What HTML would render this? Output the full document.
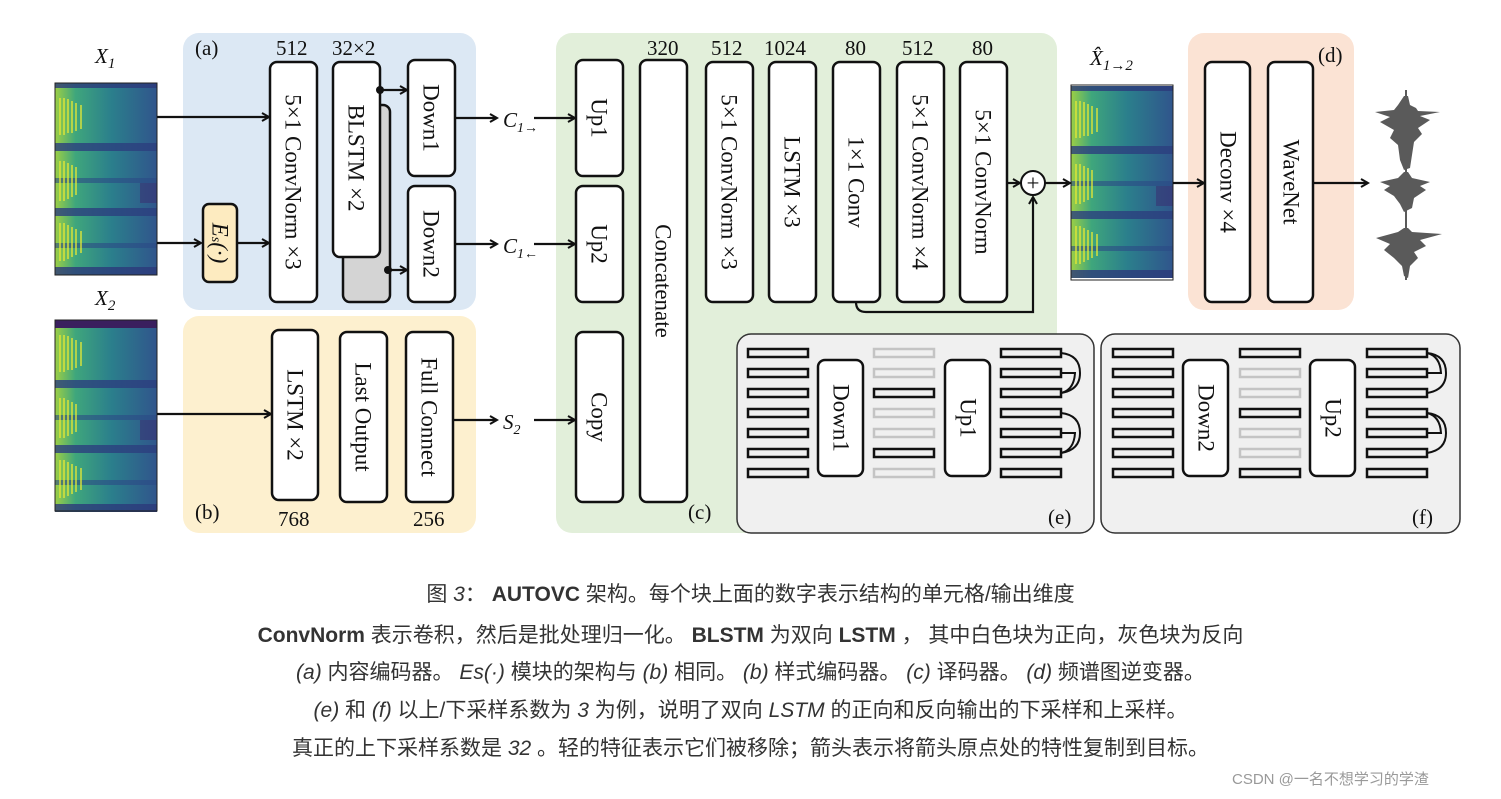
<!DOCTYPE html>
<html><head><meta charset="utf-8"><style>
body{margin:0;background:#fff;width:1501px;height:799px;overflow:hidden;position:relative}
svg{display:block}
.t{font-family:"Liberation Serif",serif;font-size:21px;fill:#111}
.r{font-family:"Liberation Serif",serif;font-size:23px;fill:#111;text-anchor:middle;dominant-baseline:central}
.b{fill:#fff;stroke:#111;stroke-width:2.5}
.cap{position:absolute;left:0;width:1501px;text-align:center;font-family:"Liberation Sans","Noto Sans CJK SC",sans-serif;font-size:21px;color:#333}
.cap b{color:#333}
</style></head><body>
<svg width="1501" height="560" viewBox="0 0 1501 560" xmlns="http://www.w3.org/2000/svg">
<defs>
<marker id="a" markerWidth="10" markerHeight="10" refX="8" refY="5" orient="auto" markerUnits="userSpaceOnUse"><path d="M1,1 L8,5 L1,9" fill="none" stroke="#111" stroke-width="2"/></marker>
<linearGradient id="sp" x1="0" x2="1"><stop offset="0" stop-color="#9ccf45"/><stop offset="0.2" stop-color="#3fa67c"/><stop offset="0.55" stop-color="#2b7f8c"/><stop offset="1" stop-color="#30558c"/></linearGradient>
<g id="spec">
<rect x="0" y="0" width="102" height="192" fill="url(#sp)"/>
<rect x="0" y="0" width="102" height="5" fill="#2c3a7a" opacity="0.8"/>
<rect x="0" y="60" width="102" height="8" fill="#2c3e7e" opacity="0.8"/>
<rect x="0" y="95" width="102" height="5" fill="#2c4a86" opacity="0.6"/>
<rect x="0" y="125" width="102" height="8" fill="#2c3e7e" opacity="0.8"/>
<rect x="0" y="160" width="102" height="5" fill="#2c4a86" opacity="0.6"/>
<rect x="0" y="184" width="102" height="8" fill="#2c3a7a" opacity="0.8"/>
<g stroke="#e6e835" stroke-width="1.6" opacity="0.85">
<path d="M5,15V52M9,15V52M13,16V50M17,18V50M21,20V48M26,22V46"/>
<path d="M5,78V118M9,78V118M13,80V116M17,82V114M21,84V112"/>
<path d="M5,140V178M9,140V178M13,142V176M17,144V174M21,146V172M26,148V170"/>
</g>
<rect x="85" y="100" width="17" height="20" fill="#3a2a6e" opacity="0.5"/>
</g>
</defs>
<!-- panels -->
<rect x="183" y="33" width="293" height="277" rx="16" fill="#dce8f4"/>
<rect x="183" y="316" width="293" height="217" rx="16" fill="#fdf0cf"/>
<rect x="556" y="33" width="501" height="500" rx="16" fill="#e2efda"/>
<rect x="1188" y="33" width="166" height="277" rx="16" fill="#fbe3d4"/>
<!-- spectrograms -->
<text class="t" x="95" y="63" font-style="italic" font-size="23">X<tspan font-size="15" dy="5">1</tspan></text>
<use href="#spec" x="55" y="83"/><rect x="55" y="83" width="102" height="192" fill="none" stroke="#222"/>
<text class="t" x="95" y="305" font-style="italic" font-size="23">X<tspan font-size="15" dy="5">2</tspan></text>
<use href="#spec" x="55" y="320"/><rect x="55" y="320" width="102" height="8" fill="#3a1f5e"/><rect x="55" y="320" width="102" height="191" fill="none" stroke="#222"/>
<text class="t" x="1090" y="65" font-style="italic" font-size="23">X̂<tspan font-size="15" dy="5">1→2</tspan></text>
<use href="#spec" x="1071" y="86"/><rect x="1071" y="85" width="102" height="195" fill="none" stroke="#222"/>
<!-- (a) -->
<text class="t" x="195" y="55">(a)</text>
<text class="t" x="276" y="55">512</text><text class="t" x="332" y="55">32×2</text>
<rect class="b" x="270" y="62" width="47" height="240" rx="7"/><text class="r" transform="translate(293,182) rotate(90)">5×1 ConvNorm ×3</text>
<rect x="343" y="105" width="47" height="197" rx="7" fill="#d4d4d4" stroke="#111" stroke-width="2.5"/>
<rect class="b" x="333" y="62" width="47" height="195" rx="7"/><text class="r" transform="translate(356,158) rotate(90)">BLSTM ×2</text>
<rect class="b" x="408" y="60" width="47" height="116" rx="7"/><text class="r" transform="translate(431,118) rotate(90)">Down1</text>
<rect class="b" x="408" y="186" width="47" height="116" rx="7"/><text class="r" transform="translate(431,244) rotate(90)">Down2</text>
<rect x="203" y="204" width="34" height="78" rx="6" fill="#fdebc0" stroke="#111" stroke-width="2.5"/><text class="r" font-style="italic" transform="translate(220,243) rotate(90)">E<tspan font-size="14" dy="4">s</tspan><tspan dy="-4">(·)</tspan></text>
<g stroke="#111" stroke-width="2.2" fill="none" marker-end="url(#a)">
<line x1="157" y1="117" x2="269" y2="117"/>
<line x1="157" y1="243" x2="201" y2="243"/>
<line x1="237" y1="243" x2="269" y2="243"/>
<line x1="380" y1="90" x2="407" y2="90"/>
<line x1="388" y1="270" x2="407" y2="270"/>
<line x1="455" y1="118" x2="497" y2="118"/>
<line x1="455" y1="244" x2="497" y2="244"/>
<line x1="157" y1="414" x2="271" y2="414"/>
<line x1="453" y1="420" x2="497" y2="420"/>
<line x1="534" y1="118" x2="575" y2="118"/>
<line x1="534" y1="244" x2="575" y2="244"/>
<line x1="534" y1="420" x2="575" y2="420"/>
<line x1="1007" y1="183" x2="1020" y2="183"/>
<line x1="1045" y1="183" x2="1070" y2="183"/>
<path d="M856,302 Q856,312 866,312 L1033,312 L1033,197"/>
<line x1="1173" y1="183" x2="1204" y2="183"/>
<line x1="1313" y1="183" x2="1368" y2="183"/>
</g>
<circle cx="380" cy="90" r="4" fill="#111"/><circle cx="388" cy="270" r="4" fill="#111"/>
<text class="t" x="503" y="127" font-style="italic">C<tspan font-size="14" dy="5">1→</tspan></text>
<text class="t" x="503" y="253" font-style="italic">C<tspan font-size="14" dy="5">1←</tspan></text>
<text class="t" x="503" y="429" font-style="italic">S<tspan font-size="14" dy="5">2</tspan></text>
<!-- (b) -->
<rect class="b" x="272" y="330" width="46" height="170" rx="7"/><text class="r" transform="translate(295,415) rotate(90)">LSTM ×2</text>
<rect class="b" x="340" y="332" width="47" height="170" rx="7"/><text class="r" transform="translate(363,417) rotate(90)">Last Output</text>
<rect class="b" x="406" y="332" width="47" height="170" rx="7"/><text class="r" transform="translate(429,417) rotate(90)">Full Connect</text>
<text class="t" x="278" y="526">768</text><text class="t" x="413" y="526">256</text>
<text class="t" x="195" y="519">(b)</text>
<!-- (c) -->
<rect class="b" x="576" y="60" width="47" height="116" rx="7"/><text class="r" transform="translate(599,118) rotate(90)">Up1</text>
<rect class="b" x="576" y="186" width="47" height="116" rx="7"/><text class="r" transform="translate(599,244) rotate(90)">Up2</text>
<rect class="b" x="576" y="332" width="47" height="170" rx="7"/><text class="r" transform="translate(599,417) rotate(90)">Copy</text>
<rect class="b" x="640" y="60" width="47" height="442" rx="7"/><text class="r" transform="translate(663,281) rotate(90)">Concatenate</text>
<text class="t" x="647" y="55">320</text>
<text class="t" x="711" y="55">512</text><text class="t" x="764" y="55">1024</text><text class="t" x="845" y="55">80</text><text class="t" x="902" y="55">512</text><text class="t" x="972" y="55">80</text>
<rect class="b" x="706" y="62" width="47" height="240" rx="7"/><text class="r" transform="translate(729,182) rotate(90)">5×1 ConvNorm ×3</text>
<rect class="b" x="769" y="62" width="47" height="240" rx="7"/><text class="r" transform="translate(792,182) rotate(90)">LSTM ×3</text>
<rect class="b" x="833" y="62" width="47" height="240" rx="7"/><text class="r" transform="translate(856,182) rotate(90)">1×1 Conv</text>
<rect class="b" x="897" y="62" width="47" height="240" rx="7"/><text class="r" transform="translate(920,182) rotate(90)">5×1 ConvNorm ×4</text>
<rect class="b" x="960" y="62" width="47" height="240" rx="7"/><text class="r" transform="translate(983,182) rotate(90)">5×1 ConvNorm</text>
<text class="t" x="688" y="519">(c)</text>
<circle cx="1033" cy="183" r="12" fill="#fff" stroke="#111" stroke-width="2"/><text class="r" x="1033" y="183" font-size="20">+</text>
<!-- (d) -->
<rect class="b" x="1205" y="62" width="45" height="240" rx="7"/><text class="r" transform="translate(1228,182) rotate(90)">Deconv ×4</text>
<rect class="b" x="1268" y="62" width="45" height="240" rx="7"/><text class="r" transform="translate(1291,182) rotate(90)">WaveNet</text>
<text class="t" x="1318" y="62">(d)</text>
<!-- waveform -->
<g fill="#5a5a5a">
<rect x="1405" y="90" width="2" height="190"/>
<path d="M1404,96 L1408,96 L1410,105 L1416,108 L1418,111 L1440,112 L1420,116 L1430,120 L1418,128 L1422,134 L1414,142 L1412,155 L1410,168 L1404,170 L1400,160 L1398,145 L1390,138 L1394,130 L1380,122 L1390,117 L1375,112 L1394,110 L1398,105 Z"/>
<path d="M1404,172 L1408,172 L1412,178 L1430,182 L1420,186 L1426,190 L1414,198 L1412,208 L1404,212 L1400,204 L1394,196 L1384,190 L1390,186 L1380,182 L1398,178 Z"/>
<path d="M1404,228 L1408,228 L1412,232 L1442,234 L1420,240 L1426,246 L1414,252 L1418,258 L1410,266 L1408,278 L1404,276 L1402,266 L1394,258 L1384,250 L1390,244 L1376,238 L1398,232 Z"/>
</g>
<!-- (e)(f) -->
<rect x="737" y="334" width="357" height="199" rx="14" fill="#f0f0f0" stroke="#333" stroke-width="1.5"/>
<rect x="1101" y="334" width="359" height="199" rx="14" fill="#f0f0f0" stroke="#333" stroke-width="1.5"/>
<g fill="none" stroke-width="2.5">
<g stroke="#111">
<rect x="748" y="349" width="60" height="8"/><rect x="748" y="369" width="60" height="8"/><rect x="748" y="389" width="60" height="8"/><rect x="748" y="409" width="60" height="8"/><rect x="748" y="429" width="60" height="8"/><rect x="748" y="449" width="60" height="8"/><rect x="748" y="469" width="60" height="8"/>
<rect x="1001" y="349" width="60" height="8"/><rect x="1001" y="369" width="60" height="8"/><rect x="1001" y="389" width="60" height="8"/><rect x="1001" y="409" width="60" height="8"/><rect x="1001" y="429" width="60" height="8"/><rect x="1001" y="449" width="60" height="8"/><rect x="1001" y="469" width="60" height="8"/>
<rect x="874" y="389" width="60" height="8"/><rect x="874" y="449" width="60" height="8"/>
<rect x="1113" y="349" width="60" height="8"/><rect x="1113" y="369" width="60" height="8"/><rect x="1113" y="389" width="60" height="8"/><rect x="1113" y="409" width="60" height="8"/><rect x="1113" y="429" width="60" height="8"/><rect x="1113" y="449" width="60" height="8"/><rect x="1113" y="469" width="60" height="8"/>
<rect x="1367" y="349" width="60" height="8"/><rect x="1367" y="369" width="60" height="8"/><rect x="1367" y="389" width="60" height="8"/><rect x="1367" y="409" width="60" height="8"/><rect x="1367" y="429" width="60" height="8"/><rect x="1367" y="449" width="60" height="8"/><rect x="1367" y="469" width="60" height="8"/>
<rect x="1240" y="349" width="60" height="8"/><rect x="1240" y="409" width="60" height="8"/><rect x="1240" y="469" width="60" height="8"/>
</g>
<g stroke="#c4c4c4">
<rect x="874" y="349" width="60" height="8"/><rect x="874" y="369" width="60" height="8"/><rect x="874" y="409" width="60" height="8"/><rect x="874" y="429" width="60" height="8"/><rect x="874" y="469" width="60" height="8"/>
<rect x="1240" y="369" width="60" height="8"/><rect x="1240" y="389" width="60" height="8"/><rect x="1240" y="429" width="60" height="8"/><rect x="1240" y="449" width="60" height="8"/>
</g>
<g stroke="#111" stroke-width="2">
<path d="M1061,393 Q1080,390 1080,373 Q1080,355 1061,353"/><path d="M1061,393 Q1074,390 1075,373 Q1074,373 1061,373"/>
<path d="M1061,453 Q1080,450 1080,433 Q1080,415 1061,413"/><path d="M1061,453 Q1074,450 1075,433 Q1074,433 1061,433"/>
<path d="M1427,353 Q1446,355 1446,373 Q1446,390 1427,393"/><path d="M1427,353 Q1440,356 1441,373 Q1440,373 1427,373"/>
<path d="M1427,413 Q1446,415 1446,433 Q1446,450 1427,453"/><path d="M1427,413 Q1440,416 1441,433 Q1440,433 1427,433"/>
</g>
</g>
<rect class="b" x="818" y="360" width="45" height="116" rx="7"/><text class="r" transform="translate(841,418) rotate(90)">Down1</text>
<rect class="b" x="945" y="360" width="45" height="116" rx="7"/><text class="r" transform="translate(968,418) rotate(90)">Up1</text>
<rect class="b" x="1183" y="360" width="45" height="116" rx="7"/><text class="r" transform="translate(1206,418) rotate(90)">Down2</text>
<rect class="b" x="1310" y="360" width="45" height="116" rx="7"/><text class="r" transform="translate(1333,418) rotate(90)">Up2</text>
<text class="t" x="1048" y="524">(e)</text><text class="t" x="1412" y="524">(f)</text>
</svg>
<div class="cap" style="top:578px">图 <i>3</i>： <b>AUTOVC</b> 架构。每个块上面的数字表示结构的单元格/输出维度</div>
<div class="cap" style="top:619px"><b>ConvNorm</b> 表示卷积，然后是批处理归一化。 <b>BLSTM</b> 为双向 <b>LSTM</b> ， 其中白色块为正向，灰色块为反向</div>
<div class="cap" style="top:656px"><i>(a)</i> 内容编码器。 <i>Es(·)</i> 模块的架构与 <i>(b)</i> 相同。 <i>(b)</i> 样式编码器。 <i>(c)</i> 译码器。 <i>(d)</i> 频谱图逆变器。</div>
<div class="cap" style="top:694px"><i>(e)</i> 和 <i>(f)</i> 以上/下采样系数为 <i>3</i> 为例，说明了双向 <i>LSTM</i> 的正向和反向输出的下采样和上采样。</div>
<div class="cap" style="top:732px">真正的上下采样系数是 <i>32</i> 。轻的特征表示它们被移除；箭头表示将箭头原点处的特性复制到目标。</div>
<div style="position:absolute;left:1232px;top:768px;font-family:'Liberation Sans','Noto Sans CJK SC',sans-serif;font-size:15px;color:#999">CSDN @一名不想学习的学渣</div>
</body></html>
